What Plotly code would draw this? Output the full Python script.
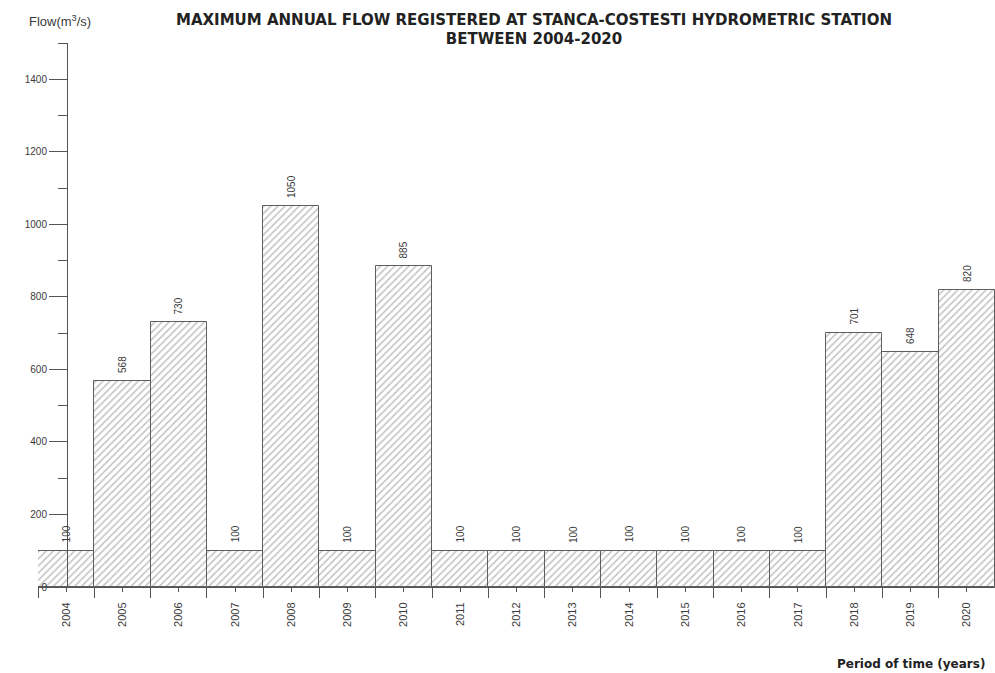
import plotly.graph_objects as go

# Maximum annual flow at Stanca-Costesti, 2004-2020
years = [2004, 2005, 2006, 2007, 2008, 2009, 2010, 2011, 2012,
         2013, 2014, 2015, 2016, 2017, 2018, 2019, 2020]
flow = [100, 568, 730, 100, 1050, 100, 885, 100, 100,
        100, 100, 100, 100, 100, 701, 648, 820]
year_labels = [str(y) for y in years]
y_ticks = [0, 200, 400, 600, 800, 1000, 1200, 1400]

W, H = 995, 673
L, R, T, B = 38, 0, 43, 86
plot_w = W - L - R
plot_h = H - T - B


def px_x(px):
    return (px - L) / plot_w


def px_y(py):
    return (H - B - py) / plot_h


FONT = "Liberation Sans, Arial, sans-serif"
WIDE = "DejaVu Sans, Verdana, sans-serif"
TXT = "#3a3a3a"

fig = go.Figure()
fig.add_trace(go.Bar(
    x=years,
    y=flow,
    width=1,
    marker=dict(
        color="white",
        line=dict(color="#5e5e5e", width=1),
        pattern=dict(shape="/", fgcolor="#858585", bgcolor="white",
                     size=5, solidity=0.3),
    ),
    hoverinfo="x+y",
))

# value labels written vertically above each bar
for yr, v in zip(years, flow):
    fig.add_annotation(
        x=yr, y=v, text=str(v), textangle=-90,
        showarrow=False, xanchor="center", yanchor="bottom", yshift=6,
        font=dict(family=FONT, size=10, color=TXT),
    )

fig.add_annotation(
    xref="paper", yref="paper", x=px_x(60), y=px_y(21),
    text="Flow(m<sup>3</sup>/s)", showarrow=False,
    xanchor="center", yanchor="middle",
    font=dict(family=FONT, size=13, color=TXT),
)
fig.add_annotation(
    xref="paper", yref="paper", x=px_x(987), y=px_y(664),
    text="<b>Period of time (years)</b>", showarrow=False,
    xanchor="right", yanchor="middle",
    font=dict(family=WIDE, size=12, color="#222"),
)

fig.update_layout(
    width=W, height=H,
    margin=dict(l=L, r=R, t=T, b=B, pad=0),
    paper_bgcolor="white", plot_bgcolor="white",
    showlegend=False,
    bargap=0,
    title=dict(
        text="<b>MAXIMUM ANNUAL FLOW REGISTERED AT STANCA-COSTESTI HYDROMETRIC STATION<br>BETWEEN 2004-2020</b>",
        xref="container", yref="container",
        x=534 / W, xanchor="center",
        y=1 - 24.5 / H, yanchor="middle",
        font=dict(family=WIDE, size=15, color="#222"),
    ),
    xaxis=dict(
        range=[2003.5, 2020.5],
        tickmode="array", tickvals=years, ticktext=year_labels,
        tickangle=-90,
        ticks="outside", ticklen=4, tickcolor="#555", tickwidth=1,
        minor=dict(tick0=2003.5, dtick=1, ticks="outside", ticklen=10,
                   tickcolor="#555", tickwidth=1),
        showline=True, linecolor="#555", linewidth=1,
        showgrid=False, zeroline=False,
        ticklabelstandoff=6,
        tickfont=dict(family=FONT, size=11, color=TXT),
    ),
    yaxis=dict(
        range=[0, 1500],
        anchor="free", position=px_x(67),
        tickmode="array", tickvals=y_ticks,
        ticks="outside", ticklen=18, tickcolor="#555", tickwidth=1,
        minor=dict(tick0=100, dtick=200, ticks="outside", ticklen=9,
                   tickcolor="#555", tickwidth=1),
        showline=True, linecolor="#555", linewidth=1,
        showgrid=False, zeroline=False,
        tickfont=dict(family=FONT, size=10, color=TXT),
    ),
)

fig.write_html("out.html")
